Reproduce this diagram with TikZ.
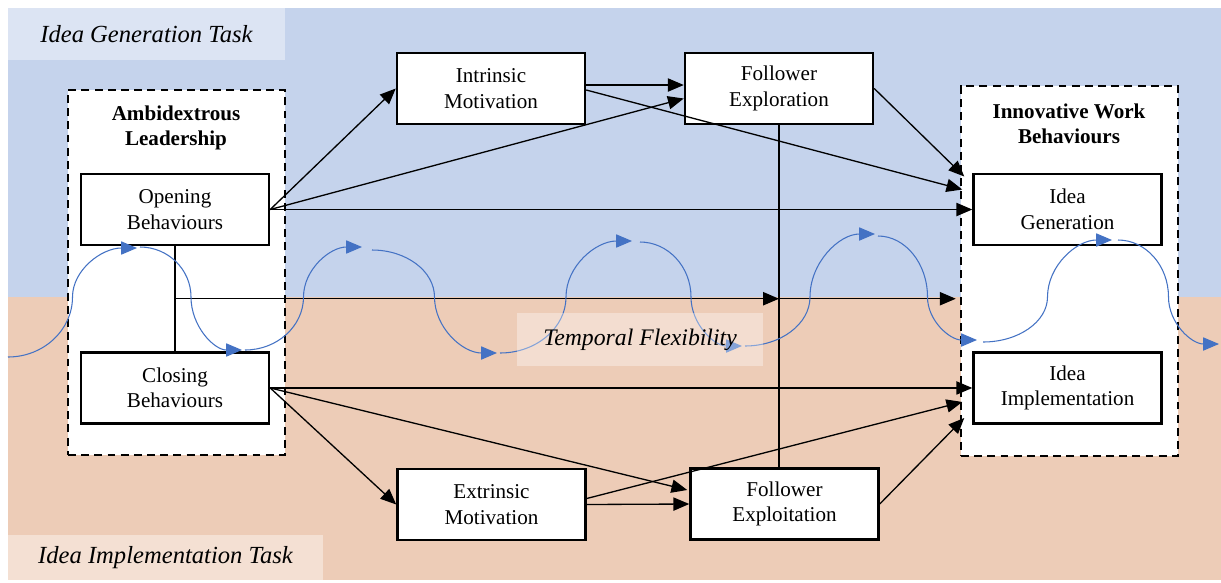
\documentclass[tikz,border=0pt]{standalone}
\usepackage{fontspec}
\setmainfont{Liberation Serif}
\usetikzlibrary{calc, arrows.meta, positioning}
\definecolor{genblue}{HTML}{C5D3EC}
\definecolor{implpeach}{HTML}{EDCCB7}
\definecolor{flexblue}{HTML}{4472C4}

\begin{document}
\begin{tikzpicture}[
    x=0.2mm, y=-0.2mm,
    every node/.style={font=\fontsize{12}{14.5}\selectfont},
    var/.style={draw, line width=1.4pt, fill=white, minimum width=37.6mm,
                minimum height=14.2mm, align=center, inner sep=1pt,
                execute at begin node={\rule{0pt}{11.5pt}}},
    group/.style={draw, line width=1.4pt, dash pattern=on 4.5pt off 3pt,
                  fill=white, minimum width=43.4mm},
    title/.style={font=\bfseries\fontsize{12}{14.5}\selectfont, align=center},
    task/.style={font=\itshape\fontsize{14}{16}\selectfont, fill=white,
                 fill opacity=0.4, text opacity=1},
    arr/.style={-{Triangle[length=9pt,width=7.5pt]}, line width=0.75pt},
    flex/.style={-{Triangle[length=9pt,width=7.5pt]}, flexblue, line width=0.6pt},
  ]

  \useasboundingbox (0,0) rectangle (1221,582);
  \fill[genblue] (8,8) rectangle (1221,297);
  \fill[implpeach] (8,297) rectangle (1221,580);

  \node[task, minimum width=55.4mm, minimum height=10.4mm] (gentask) at (146.5,34) {Idea Generation Task};
  \node[task, minimum width=63mm, minimum height=9mm] (impltask) at (165.5,557.5) {Idea Implementation Task};

  \node[group, minimum height=73mm] (ambi) at (176.5,272.5) {};
  \node[title] (ambititle) at (176,128) {Ambidextrous\\Leadership};
  \node[group, minimum height=74mm] (iwb) at (1069.5,271) {};
  \node[title] (iwbtitle) at (1069,124) {Innovative Work\\Behaviours};

  \node[var] (open) at (175,209.5) {Opening\\Behaviours};
  \node[var, below=21mm of open] (close) {Closing\\Behaviours};
  \node[var] (intr) at (491,88.5) {Intrinsic\\Motivation};
  \node[var] (explore) at (779,88.5) {Follower\\Exploration};
  \node[var] (extr) at (491.5,504.5) {Extrinsic\\Motivation};
  \node[var] (exploit) at (784.5,504) {Follower\\Exploitation};
  \node[var] (gen) at (1067.5,209.5) {Idea\\Generation};
  \node[var, below=21mm of gen] (impl) {Idea\\Implementation};

  % interaction lines
  \coordinate (junction) at ($(open.south)!0.5!(close.north)$);
  \coordinate (cross) at (explore.south |- junction);
  \draw[line width=0.75pt] (open.south) -- (close.north);
  \draw[line width=0.75pt] (explore.south) -- (explore.south |- exploit.north);
  \draw[arr] (junction) -- (cross);
  \draw[arr] (cross) -- ($(iwb.west |- cross)+(-4,0)$);

  \draw[arr] (open.east) -- (intr.west);
  \draw[arr] (open.east) -- ($(explore.west)+(0,10)$);
  \draw[arr] (open.east) -- (gen.west);
  \draw[arr] ($(intr.east)+(0,-3.5)$) -- ($(explore.west)+(0,-3.5)$);
  \draw[arr] ($(intr.east)+(0,1.5)$) -- ($(gen.west)+(-10,-20)$);
  \draw[arr] (explore.east) -- ($(gen.west)+(-8,-33)$);

  \draw[arr] (close.east) -- (impl.west);
  \draw[arr] (close.east) -- (extr.west);
  \draw[arr] (close.east) -- ($(exploit.west)+(-2,-14)$);
  \draw[arr] ($(extr.east)+(0,-6)$) -- ($(impl.west)+(-10,14)$);
  \draw[arr] (extr.east) -- (exploit.west);
  \draw[arr] (exploit.east) -- ($(impl.west)+(-8,30)$);

  % temporal flexibility wave
  \foreach \xa/\ya/\xb/\yb in {8/357/137/248, 140/247/242/350, 245/350/362/247,
      372/250/497/353, 500/353/632/241, 640/242/742/346, 745/346/875/234,
      878/236/977/340, 983/342/1112/240, 1118/240/1219/344}{
    \pgfmathsetmacro{\xm}{(\xa+\xb)/2}
    \draw[flex] (\xa,\ya) .. controls ({\xa+0.55*(\xm-\xa)},\ya) and (\xm,{297+0.55*(\ya-297)}) .. (\xm,297)
      .. controls (\xm,{297+0.55*(\yb-297)}) and ({\xb-0.55*(\xb-\xm)},\yb) .. (\xb,\yb);
  }

  \node[fill=white, fill opacity=0.35, text opacity=1, font=\itshape\fontsize{13.5}{16}\selectfont,
        minimum width=49.2mm, minimum height=10.6mm] (tempflex) at (640,339.5) {Temporal Flexibility};
\end{tikzpicture}
\end{document}
